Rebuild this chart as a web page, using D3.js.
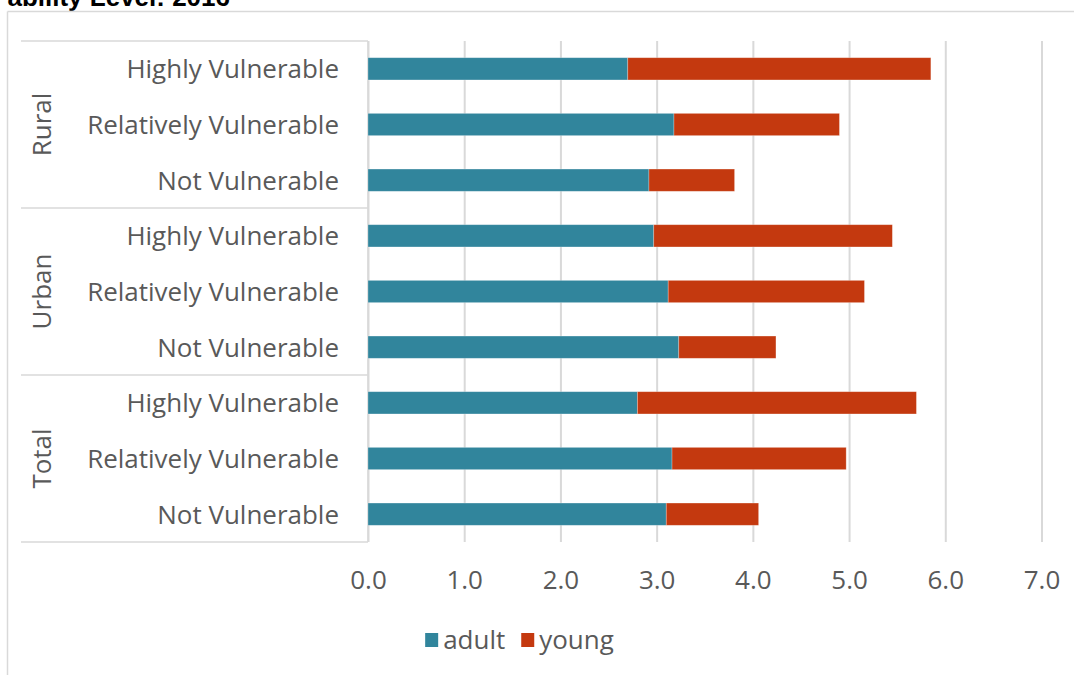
<!DOCTYPE html>
<html>
<head>
<meta charset="utf-8">
<script src="https://cdn.jsdelivr.net/npm/d3@7"></script>
<style>
  html, body { margin: 0; padding: 0; background: #fff; }
  svg { display: block; }
</style>
</head>
<body>
<svg id="chart" width="1074" height="675"></svg>
<script>
// Average number of children per woman by vulnerability level, residence and age group
const groups = ["Rural", "Urban", "Total"];
const levels = ["Highly Vulnerable", "Relatively Vulnerable", "Not Vulnerable"];
const adult = [2.70, 3.18, 2.92, 2.97, 3.12, 3.23, 2.80, 3.16, 3.10];
const young = [3.15, 1.72, 0.89, 2.48, 2.04, 1.01, 2.90, 1.81, 0.96];
const xTicks = [0, 1, 2, 3, 4, 5, 6, 7];
const seriesNames = ["adult", "young"];
const seriesColors = ["#31859C", "#C4390F"];
const titleText = "ability Level: 2016";

const svg = d3.select("#chart");
const font = "'Open Sans', sans-serif";
const textColor = "#595959";
const lineColor = "#D9D9D9";

// Size the label font so the widest category label spans the width available for it
const probe = svg.append("text").attr("font-family", font).attr("font-size", 20).text("Relatively Vulnerable");
const labelSize = 20 * 252 / probe.node().getComputedTextLength();
probe.remove();

// One row per (group, level)
const rows = [];
groups.forEach((g, gi) => levels.forEach((l, li) => {
  const i = gi * levels.length + li;
  rows.push({ key: g + "|" + l, group: g, level: l, adult: adult[i], young: young[i] });
}));

const plot = { left: 368, right: 1041.5, top: 41, bottom: 542 };
const x = d3.scaleLinear().domain([0, 7]).range([plot.left, plot.right]);
const y = d3.scaleBand().domain(rows.map(r => r.key)).range([plot.top, plot.bottom])
  .paddingInner(0.6).paddingOuter(0.3);

// Title (runs past the top edge of the page)
svg.append("text")
  .attr("x", 230).attr("y", 6).attr("text-anchor", "end")
  .attr("font-family", "'Liberation Sans', Arial, sans-serif")
  .attr("font-weight", "bold").attr("font-size", 26).attr("fill", "#000")
  .text(titleText);

// Chart frame
svg.append("line").attr("x1", 7.5).attr("x2", 1074).attr("y1", 11.5).attr("y2", 11.5)
  .attr("stroke", lineColor).attr("stroke-width", 1.5);
svg.append("line").attr("x1", 7.5).attr("x2", 7.5).attr("y1", 11.5).attr("y2", 675)
  .attr("stroke", lineColor).attr("stroke-width", 1.5);

// Vertical gridlines and value labels
svg.append("g")
  .attr("transform", `translate(0,${plot.bottom})`)
  .call(d3.axisBottom(x).tickValues(xTicks).tickSize(-(plot.bottom - plot.top)).tickFormat(d3.format(".1f")))
  .call(g => g.select(".domain").remove())
  .call(g => g.selectAll(".tick line").attr("stroke", lineColor).attr("stroke-width", 2))
  .call(g => g.selectAll(".tick text")
    .attr("font-family", font).attr("font-size", labelSize).attr("fill", textColor)
    .attr("y", 47).attr("dy", 0));

// Group separators of the category table
const sepY = [plot.top];
groups.forEach((g, gi) => {
  const lastKey = rows[gi * levels.length + levels.length - 1].key;
  sepY.push(y(lastKey) + y.bandwidth() + y.step() * y.paddingOuter());
});
svg.append("g").selectAll("line").data(sepY).join("line")
  .attr("x1", 21).attr("x2", plot.left).attr("y1", d => d).attr("y2", d => d)
  .attr("stroke", lineColor).attr("stroke-width", 1.5);
svg.append("line").attr("x1", plot.left).attr("x2", plot.left)
  .attr("y1", plot.top).attr("y2", plot.bottom)
  .attr("stroke", lineColor).attr("stroke-width", 1.5);

// Stacked bars
const stack = d3.stack().keys(seriesNames)(rows);
svg.append("g").selectAll("g").data(stack).join("g")
  .attr("fill", (d, i) => seriesColors[i])
  .selectAll("rect").data(d => d).join("rect")
  .attr("x", d => x(d[0]))
  .attr("width", d => x(d[1]) - x(d[0]))
  .attr("y", d => y(d.data.key))
  .attr("height", y.bandwidth())
  .attr("stroke", "rgba(255,255,255,0.35)").attr("stroke-width", 0.75);

// Level labels
svg.append("g").selectAll("text").data(rows).join("text")
  .attr("x", 339).attr("y", d => y(d.key) + y.bandwidth() / 2)
  .attr("dy", "0.36em").attr("text-anchor", "end")
  .attr("font-family", font).attr("font-size", labelSize).attr("fill", textColor)
  .text(d => d.level);

// Group labels (rotated)
svg.append("g").selectAll("text").data(groups).join("text")
  .attr("transform", (g, gi) => {
    const cy = (sepY[gi] + sepY[gi + 1]) / 2;
    return `translate(42,${cy}) rotate(-90)`;
  })
  .attr("dy", "0.36em").attr("text-anchor", "middle")
  .attr("font-family", font).attr("font-size", labelSize).attr("fill", textColor)
  .text(d => d);

// Legend, laid out from measured text widths and centred under the plot
const legend = svg.append("g");
const swatchW = 13, swatchGap = 5, itemGap = 16;
let cursor = 0;
seriesNames.forEach((name, i) => {
  const item = legend.append("g").attr("transform", `translate(${cursor},0)`);
  item.append("rect").attr("width", swatchW).attr("height", 14).attr("fill", seriesColors[i]);
  const t = item.append("text").attr("x", swatchW + swatchGap).attr("y", 7).attr("dy", "0.36em")
    .attr("font-family", font).attr("font-size", labelSize).attr("fill", textColor)
    .text(name);
  cursor += swatchW + swatchGap + t.node().getComputedTextLength() + itemGap;
});
const legendW = cursor - itemGap;
legend.attr("transform", `translate(${519.5 - legendW / 2},633)`);
</script>
</body>
</html>
